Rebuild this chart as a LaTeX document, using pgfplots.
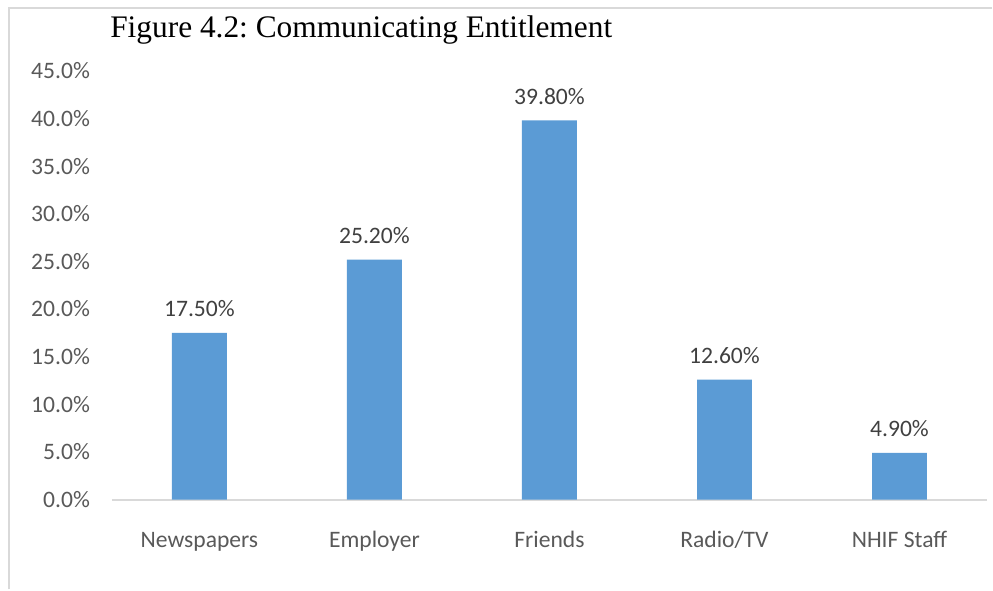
\documentclass[border=0pt]{standalone}
\usepackage{pgfplots}
\pgfplotsset{compat=1.18}
\usepackage{fontspec}
\setmainfont{Carlito}
\newfontfamily\titlefont{Liberation Serif}
\definecolor{barblue}{HTML}{5B9BD5}
\definecolor{ticktext}{HTML}{595959}
\definecolor{labeltext}{HTML}{404040}
\definecolor{framegray}{HTML}{D9D9D9}
\frenchspacing
\begin{document}
\begin{tikzpicture}
  \begin{axis}[
      scale only axis,
      width=438bp, height=214.5bp,
      ybar, bar width=27.5bp,
      ymin=0, ymax=45, ytick={0,5,...,45},
      xmin=-0.5, xmax=4.5, xtick=data,
      xticklabels={Newspapers,Employer,Friends,Radio/TV,NHIF Staff},
      axis x line*=bottom, axis y line*=left,
      x axis line style={framegray, line width=1bp, -},
      y axis line style={draw=none},
      tick style={draw=none},
      /pgf/number format/assume math mode=true,
      tick label style={font=\fontsize{11.8bp}{14bp}\selectfont, text=ticktext},
      yticklabel={\pgfmathprintnumber[fixed,fixed zerofill,precision=1]{\tick}\%},
      yticklabel style={xshift=-7.5bp},
      xticklabel style={anchor=base, yshift=-20bp},
      nodes near coords={\pgfmathprintnumber[fixed,fixed zerofill,precision=2]{\pgfplotspointmeta}\%},
      every node near coord/.append style={font=\fontsize{11.8bp}{14bp}\selectfont, text=labeltext, yshift=4.5bp},
      clip=false,
    ]
    \addplot[fill=barblue, draw=none] coordinates {(0,17.5) (1,25.2) (2,39.8) (3,12.6) (4,4.9)};
    % page extent (993 x 590 px of the reference) and the light frame
    \path (axis cs:-1.1393,-9.441) rectangle (axis cs:4.5285,52.45);
    \draw[framegray, line width=1bp] (axis cs:-1.0879,-9.441) -- (axis cs:-1.0879,51.56) -- (axis cs:4.5285,51.56);
    \node[anchor=base west, inner sep=0, font=\titlefont\fontsize{15.7bp}{18bp}\selectfont, text=black]
      at (axis cs:-0.5114,48.46) {Figure 4.2: Communicating Entitlement};
  \end{axis}
\end{tikzpicture}
\end{document}
